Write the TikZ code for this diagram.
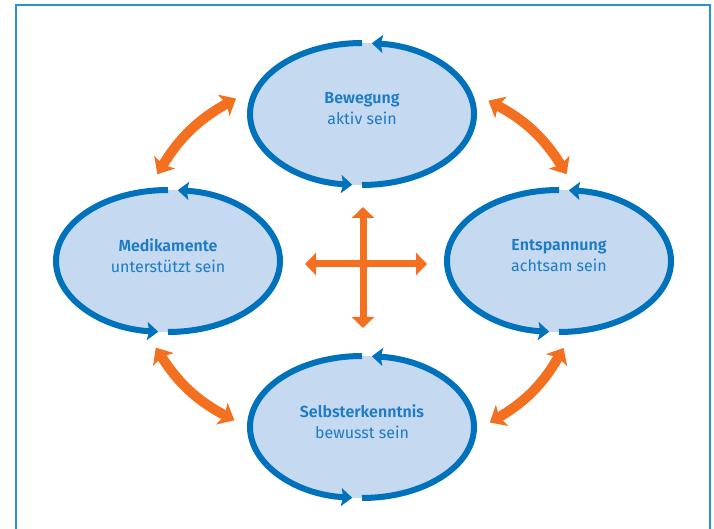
\documentclass[tikz,border=0pt]{standalone}
\usepackage{fontspec}
\setmainfont{Fira Sans}[BoldFont={Fira Sans SemiBold}]
\usetikzlibrary{shapes.geometric}
\usetikzlibrary{arrows.meta}
\usepackage{xcolor}
\definecolor{ringblue}{HTML}{0072BC}
\definecolor{fillblue}{HTML}{C5D9F0}
\definecolor{textblue}{HTML}{1D7BC4}
\definecolor{swaporange}{HTML}{F37021}
\definecolor{boxblue}{HTML}{2A8FD8}

\begin{document}
\begin{tikzpicture}[x=1pt, y=1pt,
 station/.style={ellipse, fill=fillblue, minimum width=224, minimum height=142, inner sep=0, outer sep=16},
 caption/.style={text=textblue, align=center, font=\fontsize{16}{21}\selectfont},
 ring/.style={ringblue, line width=6pt, -{Stealth[length=11pt, width=18pt, inset=2pt]}},
 exchange/.style={swaporange, line width=10pt, {Stealth[length=14pt, width=24pt, inset=3pt]}-{Stealth[length=14pt, width=24pt, inset=3pt]}},
 spoke/.style={swaporange, line width=7pt, {Triangle[length=11pt, width=22pt]}-{Triangle[length=11pt, width=22pt]}},
 boxline/.style={boxblue, line width=1.6pt}]
\useasboundingbox (0,0) rectangle (714,529);
\draw[boxline] (16,-2) |- (710,524) -- (710,-2);
% the four stations, each with its own loop
\foreach \n/\x/\y/\head/\sub in {bew/362/415/Bewegung/aktiv sein,
  med/168/268/Medikamente/unterstützt sein,
  ent/559/268/Entspannung/achtsam sein,
  sel/362/102/Selbsterkenntnis/bewusst sein} {
 \node[station] (\n) at (\x,\y) {};
 \node[caption] (\n-txt) at ([yshift=5]\n.center) {\textbf{\head}\\\sub};
 \draw[ring] ([shift={(270:112 and 71)}]\n.center) arc[start angle=270, end angle=445, x radius=112, y radius=71];
 \draw[ring] ([shift={(90:112 and 71)}]\n.center) arc[start angle=90, end angle=265, x radius=112, y radius=71];
}
% orange links between neighbours
\draw[exchange] (bew.173) to[bend right=15] (med.97);
\draw[exchange] (bew.6) to[bend left=15] (ent.85);
\draw[exchange] (ent.-87) to[bend left=15] (sel.2);
\draw[exchange] (med.-98) to[bend right=15] (sel.177);
% cross in the middle
\coordinate (hub) at (363,265);
\draw[spoke] ([yshift=57]hub) -- ([yshift=-64]hub);
\draw[spoke] ([xshift=-58]hub) -- ([xshift=64]hub);
\end{tikzpicture}
\end{document}
